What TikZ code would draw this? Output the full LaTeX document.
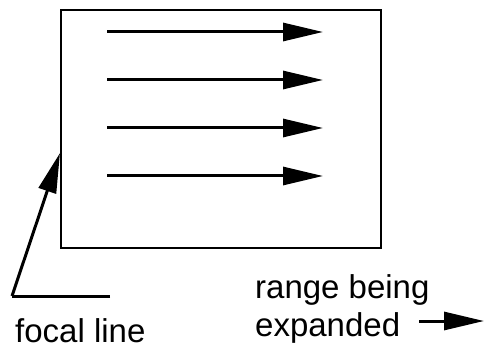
\documentclass[tikz,border=0pt]{standalone}
\usepackage{fontspec}
\setmainfont{Liberation Sans}
\usetikzlibrary{arrows.meta}
\begin{document}
\begin{tikzpicture}[x=1pt,y=-1pt,
  lbl/.style={anchor=base west,inner sep=0pt,font=\fontsize{33}{38}\selectfont},
  arr/.style={line width=3pt,-{Triangle[length=40pt,width=18pt]}}]
\useasboundingbox (0,0) rectangle (484,347);
\node[draw,line width=2pt,minimum width=320pt,minimum height=238pt,inner sep=0pt] (box) at (221,129) {};
\foreach \i/\y in {1/32,2/80,3/128,4/176}{
  \coordinate (s\i) at (107,\y);
  \coordinate (e\i) at (323,\y);
  \draw[arr] (s\i) -- (e\i);
}
\coordinate (f1) at (110,296);
\coordinate (f2) at (12,296);
\coordinate (ft) at (60,153);
\draw[line width=3pt] (f1) -- (f2);
\draw[arr] (f2) -- (ft);
\node[lbl,text depth=0pt] (focal) at (15,342) {focal line};
\node[lbl] (range) at (255,298) {range being};
\node[lbl] (exp) at (255,336) {expanded};
\coordinate (r1) at (419,321);
\coordinate (r2) at (484,321);
\draw[arr] (r1) -- (r2);
\end{tikzpicture}
\end{document}
